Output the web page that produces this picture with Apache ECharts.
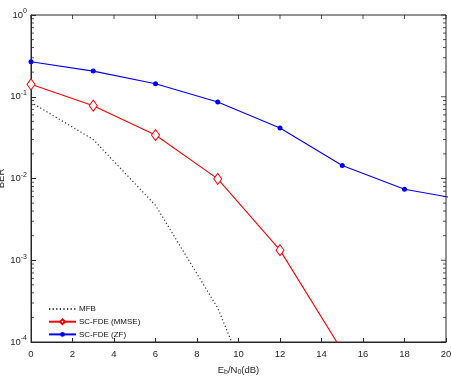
<!DOCTYPE html>
<html>
<head>
<meta charset="utf-8">
<script src="https://cdn.jsdelivr.net/npm/echarts@6/dist/echarts.min.js"></script>
<style>
html,body{margin:0;padding:0;background:#fff}
#chart{width:451px;height:380px}
</style>
</head>
<body>
<div id="chart"></div>
<script>
// data
var mfbX = [0, 3, 6, 9, 12];
var mfbY = [0.0855, 0.030, 0.0047, 0.00026, 0.0000036];
var mmseX = [0, 3, 6, 9, 12, 15];
var mmseY = [0.142, 0.0778, 0.034, 0.0099, 0.00133, 0.000078];
var zfX = [0, 3, 6, 9, 12, 15, 18, 21];
var zfY = [0.268, 0.206, 0.144, 0.0863, 0.0415, 0.0144, 0.0074, 0.0054];
var names = ['MFB', 'SC-FDE (MMSE)', 'SC-FDE (ZF)'];
var xTicks = [0, 2, 4, 6, 8, 10, 12, 14, 16, 18, 20];
var decades = [0.0001, 0.001, 0.01, 0.1, 1];
var minorTicks = [];
[0.0001, 0.001, 0.01, 0.1].forEach(function (d) {
	for (var k = 2; k <= 9; k++) minorTicks.push(d * k);
});

function pairs(xs, ys) {
	return xs.map(function (x, i) { return [x, ys[i]]; });
}

var axisColor = '#262626';
var font = 'Liberation Sans, Arial, sans-serif';

// tick marks of the box's top and right sides, and log minor ticks
function tickSeries(data, size, offset) {
	return {
		type: 'scatter',
		clip: false,
		silent: true,
		symbol: 'rect',
		symbolSize: size,
		symbolOffset: offset,
		itemStyle: { color: axisColor },
		data: data,
		z: 10
	};
}

var myChart = echarts.init(document.getElementById('chart'));
var option = {
	animation: false,
	textStyle: { fontFamily: font },
	grid: {
		left: 31, right: 5, top: 15, bottom: 38,
		outerBoundsMode: 'none', containLabel: false,
		show: true, borderColor: axisColor, borderWidth: 1
	},
	legend: {
		data: [
			{ name: 'MFB', itemStyle: { opacity: 0 } },
			names[1],
			names[2]
		],
		orient: 'vertical',
		left: 43,
		top: 300,
		itemWidth: 27,
		itemHeight: 6,
		itemGap: 4.7,
		textStyle: { fontSize: 8, color: '#111', padding: [0, 0, 0, -2] }
	},
	xAxis: {
		type: 'value',
		min: 0, max: 20, interval: 2,
		name: 'E{sub|b}/N{sub|0}(dB)',
		nameLocation: 'middle',
		nameGap: 22,
		nameTextStyle: {
			fontSize: 9.5, color: axisColor,
			rich: { sub: { fontSize: 7, padding: [5, 0, 0, 0], color: axisColor } }
		},
		axisLine: { lineStyle: { color: axisColor, width: 1 } },
		axisTick: { inside: true, length: 4, lineStyle: { color: axisColor } },
		axisLabel: { fontSize: 9.5, color: axisColor, margin: 7 },
		splitLine: { show: false }
	},
	yAxis: {
		type: 'log',
		logBase: 10,
		min: 0.0001, max: 1,
		name: 'BER',
		nameLocation: 'middle',
		nameRotate: 90,
		nameGap: 25,
		nameMoveOverlap: false,
		nameTextStyle: { fontSize: 9.5, color: axisColor },
		axisLine: { show: true, lineStyle: { color: axisColor, width: 1 } },
		axisTick: { inside: true, length: 5, lineStyle: { color: axisColor } },
		axisLabel: {
			fontSize: 9.5, color: axisColor, margin: 4,
			formatter: function (v) {
				return '10{sup|' + Math.round(Math.log10(v)) + '}';
			},
			rich: { sup: { fontSize: 7, padding: [0, 0, 7, 0], color: axisColor } }
		},
		splitLine: { show: false }
	},
	series: [{
		name: 'MFB',
		type: 'line',
		data: pairs(mfbX, mfbY),
		symbol: 'circle',
		symbolSize: 0.01,
		showSymbol: false,
		color: '#333',
		lineStyle: { color: '#333', width: 1.2, type: [1.2, 2.4] },
		z: 3
	}, {
		name: 'SC-FDE (MMSE)',
		type: 'line',
		data: pairs(mmseX, mmseY),
		symbol: 'diamond',
		symbolSize: [8, 11],
		color: '#ff0000',
		itemStyle: { color: '#fff', borderColor: '#ff0000', borderWidth: 1 },
		lineStyle: { color: '#ff0000', width: 1.1 },
		z: 4
	}, {
		name: 'SC-FDE (ZF)',
		type: 'line',
		data: pairs(zfX, zfY),
		symbol: 'circle',
		symbolSize: 5,
		color: '#0000ff',
		itemStyle: { color: '#0000ff' },
		lineStyle: { color: '#0000ff', width: 1.1 },
		z: 5
	},
	tickSeries(xTicks.map(function (x) { return [x, 1]; }), [1, 4], [0, 2]),
	tickSeries(decades.map(function (v) { return [20, v]; }), [5, 1], [-2.5, 0]),
	tickSeries(minorTicks.map(function (v) { return [0, v]; }), [3, 1], [1.5, 0]),
	tickSeries(minorTicks.map(function (v) { return [20, v]; }), [3, 1], [-1.5, 0])]
};
myChart.setOption(option);
</script>
</body>
</html>
